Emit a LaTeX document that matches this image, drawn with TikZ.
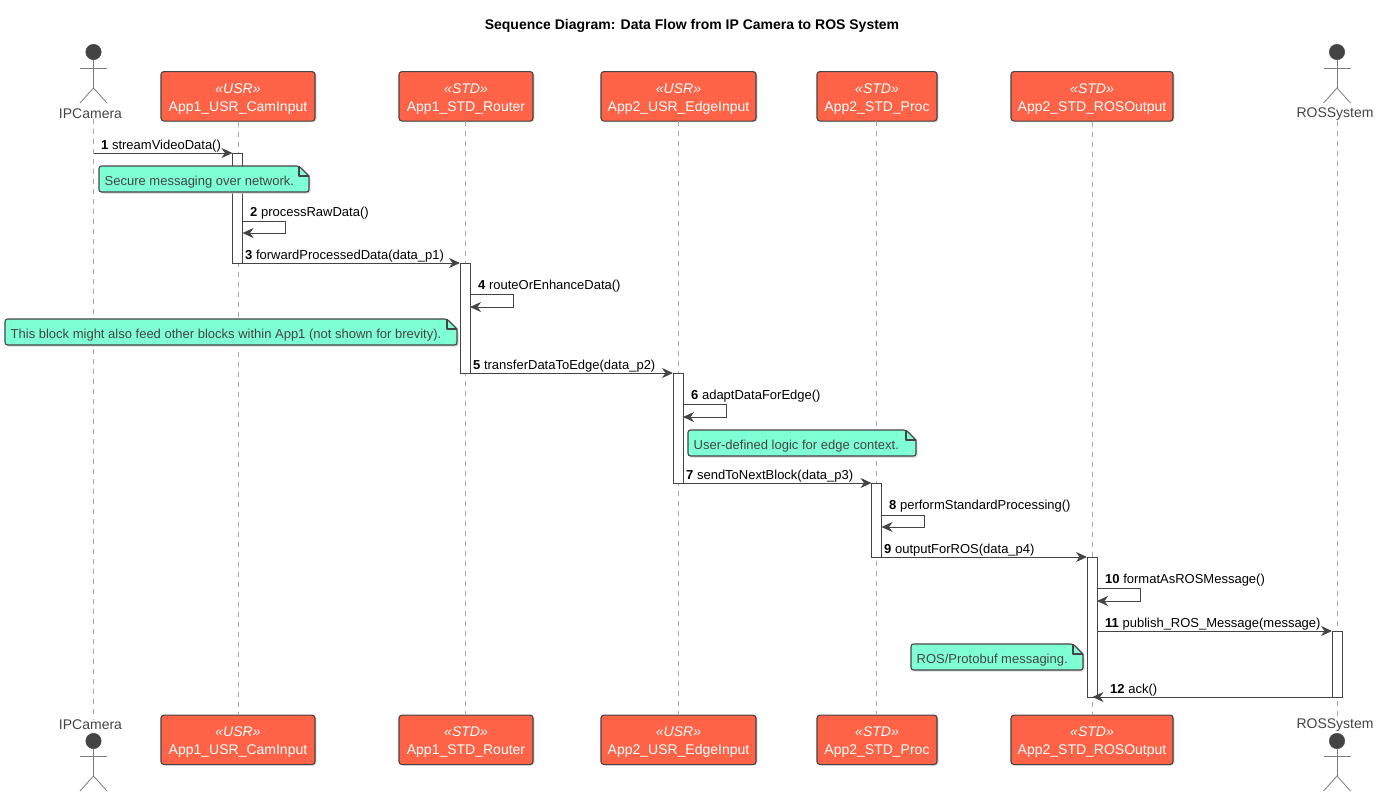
\documentclass[tikz,border=0pt]{standalone}
\usepackage{fontspec}
\setmainfont{Liberation Sans}
\usetikzlibrary{arrows.meta,calc}
\definecolor{ink}{HTML}{444444}
\definecolor{tomatofill}{HTML}{FF6347}
\definecolor{aquafill}{HTML}{7FFFD4}
\definecolor{lifegrey}{HTML}{A8A8A8}
\definecolor{shadowgrey}{HTML}{D8D8D8}
\tikzset{
  x=1pt,y=-1pt,
  part/.style={draw=ink,line width=1.1pt,fill=tomatofill,rounded corners=3pt,text=white,
    inner sep=0pt,align=center,font=\fontsize{14}{18}\selectfont,minimum height=49.5pt,text height=0pt},
  actorlabel/.style={text=ink,font=\fontsize{14}{16}\selectfont,inner sep=0pt},
  stick/.style={draw=ink!70,line width=.8pt},
  head/.style={circle,fill=ink,draw=ink,minimum size=15.5pt,inner sep=0pt},
  lifeline/.style={draw=lifegrey,line width=.8pt,dash pattern=on 5pt off 5pt},
  activation/.style={draw=ink,line width=.9pt,fill=white,inner sep=0pt,minimum width=10pt,outer sep=0pt},
  msg/.style={draw=ink,line width=1pt,-{Stealth[length=11pt,width=10pt,inset=3.5pt]}},
  msglabel/.style={anchor=base west,inner sep=0pt,text=black,font=\fontsize{13}{15}\selectfont},
  notetext/.style={anchor=base west,inner sep=0pt,text=ink,font=\fontsize{13}{15}\selectfont},
  notebody/.style={draw=ink,line width=1.1pt,fill=aquafill,line join=round},
}
% \partbox{name}{cx}{top}{width}{stereotype}{label}
\newcommand{\partbox}[6]{%
  \fill[shadowgrey,rounded corners=3pt] (#2-#4/2+1.5,#3+1.5) rectangle (#2+#4/2+1.5,#3+51);
  \node[part,minimum width=#4 pt,anchor=north] (#1) at (#2,#3) {};
  \node[text=white,inner sep=0pt,anchor=base,font=\fontsize{14}{16}\selectfont\itshape] (#1s) at (#2,#3+22) {«#5»};
  \node[text=white,inner sep=0pt,anchor=base,font=\fontsize{14}{16}\selectfont] (#1n) at (#2,#3+40) {#6};}
% \actorfig{cx}{headY}{armY}{hipY}{footY}{name}
\newcommand{\actorfig}[6]{%
  \node[head] (#6) at (#1,#2) {};
  \draw[stick] (#6.south) -- (#1,#4);
  \draw[stick] (#1-13.5,#3) -- (#1+13.5,#3);
  \draw[stick] (#1-13.5,#5) -- (#1,#4) -- (#1+13.5,#5);}
% \notebox{name}{x1}{y1}{x2}{y2}{text}
\newcommand{\notebox}[6]{%
  \fill[shadowgrey,rounded corners=2pt] (#2+1.5,#3+1.5) -- (#4-8.5,#3+1.5) -- (#4+1.5,#3+11.5) -- (#4+1.5,#5+1.5) -- (#2+1.5,#5+1.5) -- cycle;
  \path[notebody,rounded corners=2.5pt] (#2,#3) -- (#4-10,#3) [sharp corners] -- (#4,#3+10)
    [rounded corners=2.5pt] -- (#4,#5) -- (#2,#5) -- cycle;
  \draw[notebody,fill=none,sharp corners] (#4-10,#3) -- (#4-10,#3+10) -- (#4,#3+10);
  \node[notetext] (#1) at (#2+5.5,#3+19.5) {#6};}
\begin{document}
\begin{tikzpicture}
\useasboundingbox (0,0) rectangle (1379,796);
\node[font=\fontsize{14}{16}\selectfont\bfseries,text=black,inner sep=0pt] (title) at (692,26)
  {Sequence Diagram: Data Flow from IP Camera to ROS System};

% participants, top
\partbox{camT}{238}{71}{154}{USR}{App1\_USR\_CamInput}
\partbox{rtrT}{466}{71}{134}{STD}{App1\_STD\_Router}
\partbox{edgT}{678.5}{71}{155}{USR}{App2\_USR\_EdgeInput}
\partbox{prcT}{877}{71}{120}{STD}{App2\_STD\_Proc}
\partbox{rosT}{1092}{71}{162}{STD}{App2\_STD\_ROSOutput}
% participants, bottom
\partbox{camB}{238}{714.5}{154}{USR}{App1\_USR\_CamInput}
\partbox{rtrB}{466}{714.5}{134}{STD}{App1\_STD\_Router}
\partbox{edgB}{678.5}{714.5}{155}{USR}{App2\_USR\_EdgeInput}
\partbox{prcB}{877}{714.5}{120}{STD}{App2\_STD\_Proc}
\partbox{rosB}{1092}{714.5}{162}{STD}{App2\_STD\_ROSOutput}
% actors
\actorfig{93.5}{52}{68}{88}{103}{ipcH}
\node[actorlabel] (ipcT) at (90.5,114) {IPCamera};
\actorfig{1337}{52}{68}{88}{103}{sysH}
\node[actorlabel] (sysT) at (1335,114) {ROSSystem};
\actorfig{93.5}{741}{756}{776}{791}{ipcF}
\node[actorlabel] (ipcB) at (90.5,725) {IPCamera};
\actorfig{1337}{741}{756}{776}{791}{sysF}
\node[actorlabel] (sysB) at (1335,725) {ROSSystem};

% lifelines
\draw[lifeline] (ipcT.south -| ipcH) -- (ipcB.north -| ipcH);
\draw[lifeline] (camT.south) -- (camB.north);
\draw[lifeline] (465,120.5) -- (465,714);
\draw[lifeline] (678,120.5) -- (678,714);
\draw[lifeline] (876.5,120.5) -- (876.5,714);
\draw[lifeline] (rosT.south) -- (rosB.north);
\draw[lifeline] (sysT.south -| sysH) -- (sysB.north -| sysH);

% activations
\node[activation,minimum height=110pt,anchor=north] (aCam) at (237.5,153) {};
\node[activation,minimum height=110pt,anchor=north] (aRtr) at (465,263) {};
\node[activation,minimum height=110pt,anchor=north] (aEdg) at (678,373) {};
\node[activation,minimum height=74pt,anchor=north] (aPrc) at (876.5,483) {};
\node[activation,minimum height=140pt,anchor=north] (aRos) at (1092,557) {};
\node[activation,minimum height=66pt,anchor=north] (aSys) at (1337,631) {};

% connector end points
\coordinate (ipcLine) at (93.5,153);
\coordinate (s2a) at (aCam.east |- 0,221); \coordinate (s2b) at (285,221); \coordinate (s2c) at (285,233); \coordinate (s2d) at (aCam.east |- 0,233);
\coordinate (s4a) at (aRtr.east |- 0,294); \coordinate (s4b) at (513,294); \coordinate (s4c) at (513,307); \coordinate (s4d) at (aRtr.east |- 0,307);
\coordinate (s6a) at (aEdg.east |- 0,404); \coordinate (s6b) at (726,404); \coordinate (s6c) at (726,417); \coordinate (s6d) at (aEdg.east |- 0,417);
\coordinate (s8a) at (aPrc.east |- 0,515); \coordinate (s8b) at (924,515); \coordinate (s8c) at (924,527); \coordinate (s8d) at (aPrc.east |- 0,527);
\coordinate (s10a) at (aRos.east |- 0,588); \coordinate (s10b) at (1140,588); \coordinate (s10c) at (1140,601); \coordinate (s10d) at (aRos.east |- 0,601);
\coordinate (ackEnd) at (1092.5,697);

% messages
\draw[msg] (ipcLine) -- (aCam.north west);
\draw[msg] (s2a) -- (s2b) -- (s2c) -- (s2d);
\draw[msg] (aCam.south east) -- (aRtr.north west);
\draw[msg] (s4a) -- (s4b) -- (s4c) -- (s4d);
\draw[msg] (aRtr.south east) -- (aEdg.north west);
\draw[msg] (s6a) -- (s6b) -- (s6c) -- (s6d);
\draw[msg] (aEdg.south east) -- (aPrc.north west);
\draw[msg] (s8a) -- (s8b) -- (s8c) -- (s8d);
\draw[msg] (aPrc.south east) -- (aRos.north west);
\draw[msg] (s10a) -- (s10b) -- (s10c) -- (s10d);
\draw[msg] (aRos.east |- aSys.north) -- (aSys.north west);
\draw[msg] (aSys.south west) -- (ackEnd);

% message labels
\node[msglabel] (l1) at (101,149) {\textbf{1} streamVideoData()};
\node[msglabel] (l2) at (250,216) {\textbf{2} processRawData()};
\node[msglabel] (l3) at (245,259) {\textbf{3} forwardProcessedData(data\_p1)};
\node[msglabel] (l4) at (478,289) {\textbf{4} routeOrEnhanceData()};
\node[msglabel] (l5) at (473,369) {\textbf{5} transferDataToEdge(data\_p2)};
\node[msglabel] (l6) at (691,399) {\textbf{6} adaptDataForEdge()};
\node[msglabel] (l7) at (686,479) {\textbf{7} sendToNextBlock(data\_p3)};
\node[msglabel] (l8) at (889,509) {\textbf{8} performStandardProcessing()};
\node[msglabel] (l9) at (884,553) {\textbf{9} outputForROS(data\_p4)};
\node[msglabel] (l10) at (1105,583) {\textbf{10} formatAsROSMessage()};
\node[msglabel] (l11) at (1105,627) {\textbf{11} publish\_ROS\_Message(message)};
\node[msglabel] (l12) at (1110,693) {\textbf{12} ack()};

% notes
\notebox{n1}{99}{166}{309}{192}{Secure messaging over network.}
\notebox{n2}{5}{319}{457}{345}{This block might also feed other blocks within App1 (not shown for brevity).}
\notebox{n3}{688}{430}{916}{456}{User-defined logic for edge context.}
\notebox{n4}{911}{644}{1083}{670}{ROS/Protobuf messaging.}
\end{tikzpicture}
\end{document}
